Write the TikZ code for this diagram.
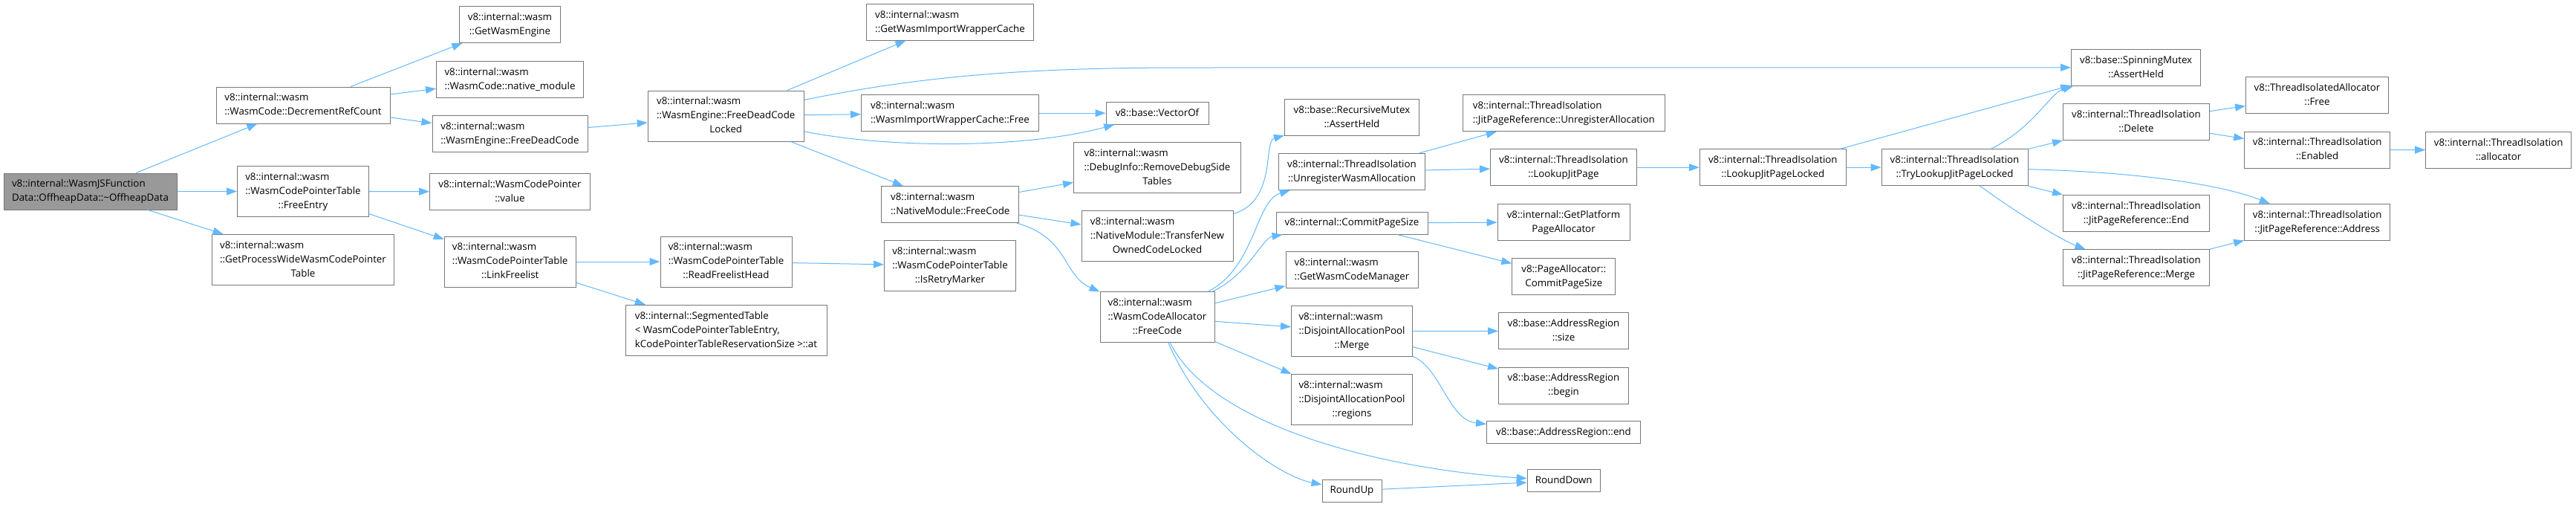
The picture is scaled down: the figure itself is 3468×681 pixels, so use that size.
\documentclass[tikz,border=0pt]{standalone}
\usepackage{fontspec}
\setmainfont{Open Sans}
\usetikzlibrary{arrows.meta}
\definecolor{edgeblue}{HTML}{63B8FF}
\definecolor{boxline}{HTML}{777777}
\definecolor{rootfill}{HTML}{999999}
% doxygen style labels: left lines, last line centred
\newcommand{\fnl}[2]{\begin{tabular}{@{}l@{}}#1\\\multicolumn{1}{@{}c@{}}{#2}\end{tabular}}
\newcommand{\fno}[1]{\begin{tabular}{@{}c@{}}#1\end{tabular}}
\begin{document}
\begin{tikzpicture}[x=1pt, y=-1pt,
    fnbox/.style={draw=boxline, fill=white, line width=1pt, inner xsep=3pt, inner ysep=5.5pt,
      font=\fontsize{13.33}{19}\selectfont},
    rootbox/.style={fnbox, fill=rootfill},
    calls/.style={draw=edgeblue, line width=1pt, -{Triangle[length=14pt,width=10pt]}}]
    \useasboundingbox (0,0) rectangle (3468,681);
    % caller
    \node[rootbox, minimum width=233] (root) at (121.5,257.5) {\fnl{v8::internal::WasmJSFunction}{Data::OffheapData::\textasciitilde OffheapData}};
    % first column
    \node[fnbox, minimum width=234] (decref) at (408,141.5) {\fnl{v8::internal::wasm}{::WasmCode::DecrementRefCount}};
    \node[fnbox, minimum width=177] (freeentry) at (408,257.5) {\fnl{v8::internal::wasm\\::WasmCodePointerTable}{::FreeEntry}};
    \node[fnbox, minimum width=245] (getpwcpt) at (408,349.5) {\fnl{v8::internal::wasm\\::GetProcessWideWasmCodePointer}{Table}};
    % second column
    \node[fnbox, minimum width=136] (getengine) at (686.5,33) {\fnl{v8::internal::wasm}{::GetWasmEngine}};
    \node[fnbox, minimum width=198] (nativemod) at (686.5,107) {\fnl{v8::internal::wasm}{::WasmCode::native\_module}};
    \node[fnbox, minimum width=209] (freedead) at (686.5,180.3) {\fnl{v8::internal::wasm}{::WasmEngine::FreeDeadCode}};
    \node[fnbox, minimum width=216] (cpvalue) at (686.5,257.8) {\fnl{v8::internal::WasmCodePointer}{::value}};
    \node[fnbox, minimum width=177] (linkfree) at (686.7,352) {\fnl{v8::internal::wasm\\::WasmCodePointerTable}{::LinkFreelist}};
    % third column
    \node[fnbox, minimum width=210] (fdlocked) at (977.3,156.1) {\fnl{v8::internal::wasm\\::WasmEngine::FreeDeadCode}{Locked}};
    \node[fnbox, minimum width=177] (readhead) at (977.5,352) {\fnl{v8::internal::wasm\\::WasmCodePointerTable}{::ReadFreelistHead}};
    \node[fnbox, minimum width=271] (segtable) at (977.5,444.3) {\fnl{v8::internal::SegmentedTable\\< WasmCodePointerTableEntry,}{kCodePointerTableReservationSize >::at}};
    % fourth column
    \node[fnbox, minimum width=225] (getwiwc) at (1279,29.7) {\fnl{v8::internal::wasm}{::GetWasmImportWrapperCache}};
    \node[fnbox, minimum width=239] (wiwcfree) at (1279,152.2) {\fnl{v8::internal::wasm}{::WasmImportWrapperCache::Free}};
    \node[fnbox, minimum width=185] (nmfreecode) at (1279.3,275) {\fnl{v8::internal::wasm}{::NativeModule::FreeCode}};
    \node[fnbox, minimum width=177] (isretry) at (1279,357.4) {\fnl{v8::internal::wasm\\::WasmCodePointerTable}{::IsRetryMarker}};
    % fifth column
    \node[fnbox, minimum width=138] (vectorof) at (1558,152.2) {\fno{v8::base::VectorOf}};
    \node[fnbox, minimum width=225] (rmdebug) at (1558,225.4) {\fnl{v8::internal::wasm\\::DebugInfo::RemoveDebugSide}{Tables}};
    \node[fnbox, minimum width=204] (transfer) at (1558,317.7) {\fnl{v8::internal::wasm\\::NativeModule::TransferNew}{OwnedCodeLocked}};
    \node[fnbox, minimum width=154] (wcafree) at (1558,426.7) {\fnl{v8::internal::wasm\\::WasmCodeAllocator}{::FreeCode}};
    % sixth column
    \node[fnbox, minimum width=181] (rmassert) at (1820,157.7) {\fnl{v8::base::RecursiveMutex}{::AssertHeld}};
    \node[fnbox, minimum width=197] (unregwasm) at (1820,230.9) {\fnl{v8::internal::ThreadIsolation}{::UnregisterWasmAllocation}};
    \node[fnbox, minimum width=204] (commitps) at (1820,300.1) {\fno{v8::internal::CommitPageSize}};
    \node[fnbox, minimum width=178] (getwcm) at (1820,362.9) {\fnl{v8::internal::wasm}{::GetWasmCodeManager}};
    \node[fnbox, minimum width=163] (dapmerge) at (1820,445.6) {\fnl{v8::internal::wasm\\::DisjointAllocationPool}{::Merge}};
    \node[fnbox, minimum width=163] (dapregions) at (1820,537.5) {\fnl{v8::internal::wasm\\::DisjointAllocationPool}{::regions}};
    \node[fnbox, minimum width=80] (roundup) at (1820,660) {\fno{RoundUp}};
    % seventh column
    \node[fnbox, minimum width=272] (unregalloc) at (2105.3,152.2) {\fnl{v8::internal::ThreadIsolation}{::JitPageReference::UnregisterAllocation}};
    \node[fnbox, minimum width=197] (lookupjp) at (2105,225.2) {\fnl{v8::internal::ThreadIsolation}{::LookupJitPage}};
    \node[fnbox, minimum width=178] (getppa) at (2105,298.8) {\fnl{v8::internal::GetPlatform}{PageAllocator}};
    \node[fnbox, minimum width=139] (pacps) at (2105.3,372) {\fnl{v8::PageAllocator::}{CommitPageSize}};
    \node[fnbox, minimum width=175] (arsize) at (2105,445.2) {\fnl{v8::base::AddressRegion}{::size}};
    \node[fnbox, minimum width=175] (arbegin) at (2105,518.6) {\fnl{v8::base::AddressRegion}{::begin}};
    \node[fnbox, minimum width=207] (arend) at (2105,581.5) {\fno{v8::base::AddressRegion::end}};
    \node[fnbox, minimum width=98] (rounddown) at (2105.2,646.8) {\fno{RoundDown}};
    % eighth and ninth column
    \node[fnbox, minimum width=197] (lookupjpl) at (2386.8,225.2) {\fnl{v8::internal::ThreadIsolation}{::LookupJitPageLocked}};
    \node[fnbox, minimum width=197] (trylookup) at (2631.5,225.2) {\fnl{v8::internal::ThreadIsolation}{::TryLookupJitPageLocked}};
    % tenth column
    \node[fnbox, minimum width=174] (smassert) at (2875.6,90.8) {\fnl{v8::base::SpinningMutex}{::AssertHeld}};
    \node[fnbox, minimum width=197] (tidelete) at (2876,164.2) {\fnl{v8::internal::ThreadIsolation}{::Delete}};
    \node[fnbox, minimum width=197] (jprend) at (2876,286.9) {\fnl{v8::internal::ThreadIsolation}{::JitPageReference::End}};
    \node[fnbox, minimum width=197] (jprmerge) at (2876,360) {\fnl{v8::internal::ThreadIsolation}{::JitPageReference::Merge}};
    % eleventh and twelfth column
    \node[fnbox, minimum width=192] (tiafree) at (3119.5,128.3) {\fnl{v8::ThreadIsolatedAllocator}{::Free}};
    \node[fnbox, minimum width=196] (tienabled) at (3119.7,201.5) {\fnl{v8::internal::ThreadIsolation}{::Enabled}};
    \node[fnbox, minimum width=196] (jpraddr) at (3119.7,298.8) {\fnl{v8::internal::ThreadIsolation}{::JitPageReference::Address}};
    \node[fnbox, minimum width=196] (tialloc) at (3363.7,201.7) {\fnl{v8::internal::ThreadIsolation}{::allocator}};
    % calls from the left part
    \draw[calls] (root) -- (decref);
    \draw[calls] (root) -- (freeentry);
    \draw[calls] (root) -- (getpwcpt);
    \draw[calls] (decref) -- (getengine);
    \draw[calls] (decref) -- (nativemod);
    \draw[calls] (decref) -- (freedead);
    \draw[calls] (freeentry) -- (cpvalue);
    \draw[calls] (freeentry) -- (linkfree);
    \draw[calls] (freedead) -- (fdlocked);
    \draw[calls] (linkfree) -- (readhead);
    \draw[calls] (linkfree) -- (segtable);
    \draw[calls] (readhead) -- (isretry);
    \draw[calls] (fdlocked) -- (getwiwc);
    \draw[calls] (fdlocked) -- (wiwcfree);
    \draw[calls] (fdlocked) -- (nmfreecode);
    \draw[calls] (fdlocked) .. controls (1250,100) and (1400,91) .. (1600,91) -- (smassert);
    \draw[calls] (fdlocked) .. controls (1200,200) and (1380,200) .. (vectorof);
    \draw[calls] (wiwcfree) -- (vectorof);
    % calls from the middle part
    \draw[calls] (nmfreecode) -- (rmdebug);
    \draw[calls] (nmfreecode) -- (transfer);
    \draw[calls] (nmfreecode) .. controls (1440,320) and (1430,370) .. (wcafree);
    \draw[calls] (transfer) .. controls (1720,270) and (1700,190) .. (rmassert);
    \draw[calls] (wcafree) .. controls (1690,360) and (1690,270) .. (unregwasm);
    \draw[calls] (wcafree) .. controls (1680,370) and (1700,320) .. (commitps);
    \draw[calls] (wcafree) -- (getwcm);
    \draw[calls] (wcafree) -- (dapmerge);
    \draw[calls] (wcafree) -- (dapregions);
    \draw[calls] (wcafree) .. controls (1630,570) and (1850,630) .. (rounddown);
    \draw[calls] (wcafree) .. controls (1620,570) and (1720,640) .. (roundup);
    \draw[calls] (roundup) -- (rounddown);
    \draw[calls] (unregwasm) -- (unregalloc);
    \draw[calls] (unregwasm) -- (lookupjp);
    \draw[calls] (commitps) -- (getppa);
    \draw[calls] (commitps) -- (pacps);
    \draw[calls] (dapmerge) -- (arsize);
    \draw[calls] (dapmerge) -- (arbegin);
    \draw[calls] (dapmerge) .. controls (1940,495) and (1950,565) .. (arend);
    % calls from the right part
    \draw[calls] (lookupjp) -- (lookupjpl);
    \draw[calls] (lookupjpl) -- (smassert);
    \draw[calls] (lookupjpl) -- (trylookup);
    \draw[calls] (trylookup) .. controls (2740,170) and (2760,125) .. (smassert);
    \draw[calls] (trylookup) -- (tidelete);
    \draw[calls] (trylookup) .. controls (2900,232) and (3000,252) .. (jpraddr);
    \draw[calls] (trylookup) -- (jprend);
    \draw[calls] (trylookup) .. controls (2720,290) and (2780,325) .. (jprmerge);
    \draw[calls] (tidelete) -- (tiafree);
    \draw[calls] (tidelete) -- (tienabled);
    \draw[calls] (tienabled) -- (tialloc);
    \draw[calls] (jprmerge) -- (jpraddr);
\end{tikzpicture}
\end{document}
